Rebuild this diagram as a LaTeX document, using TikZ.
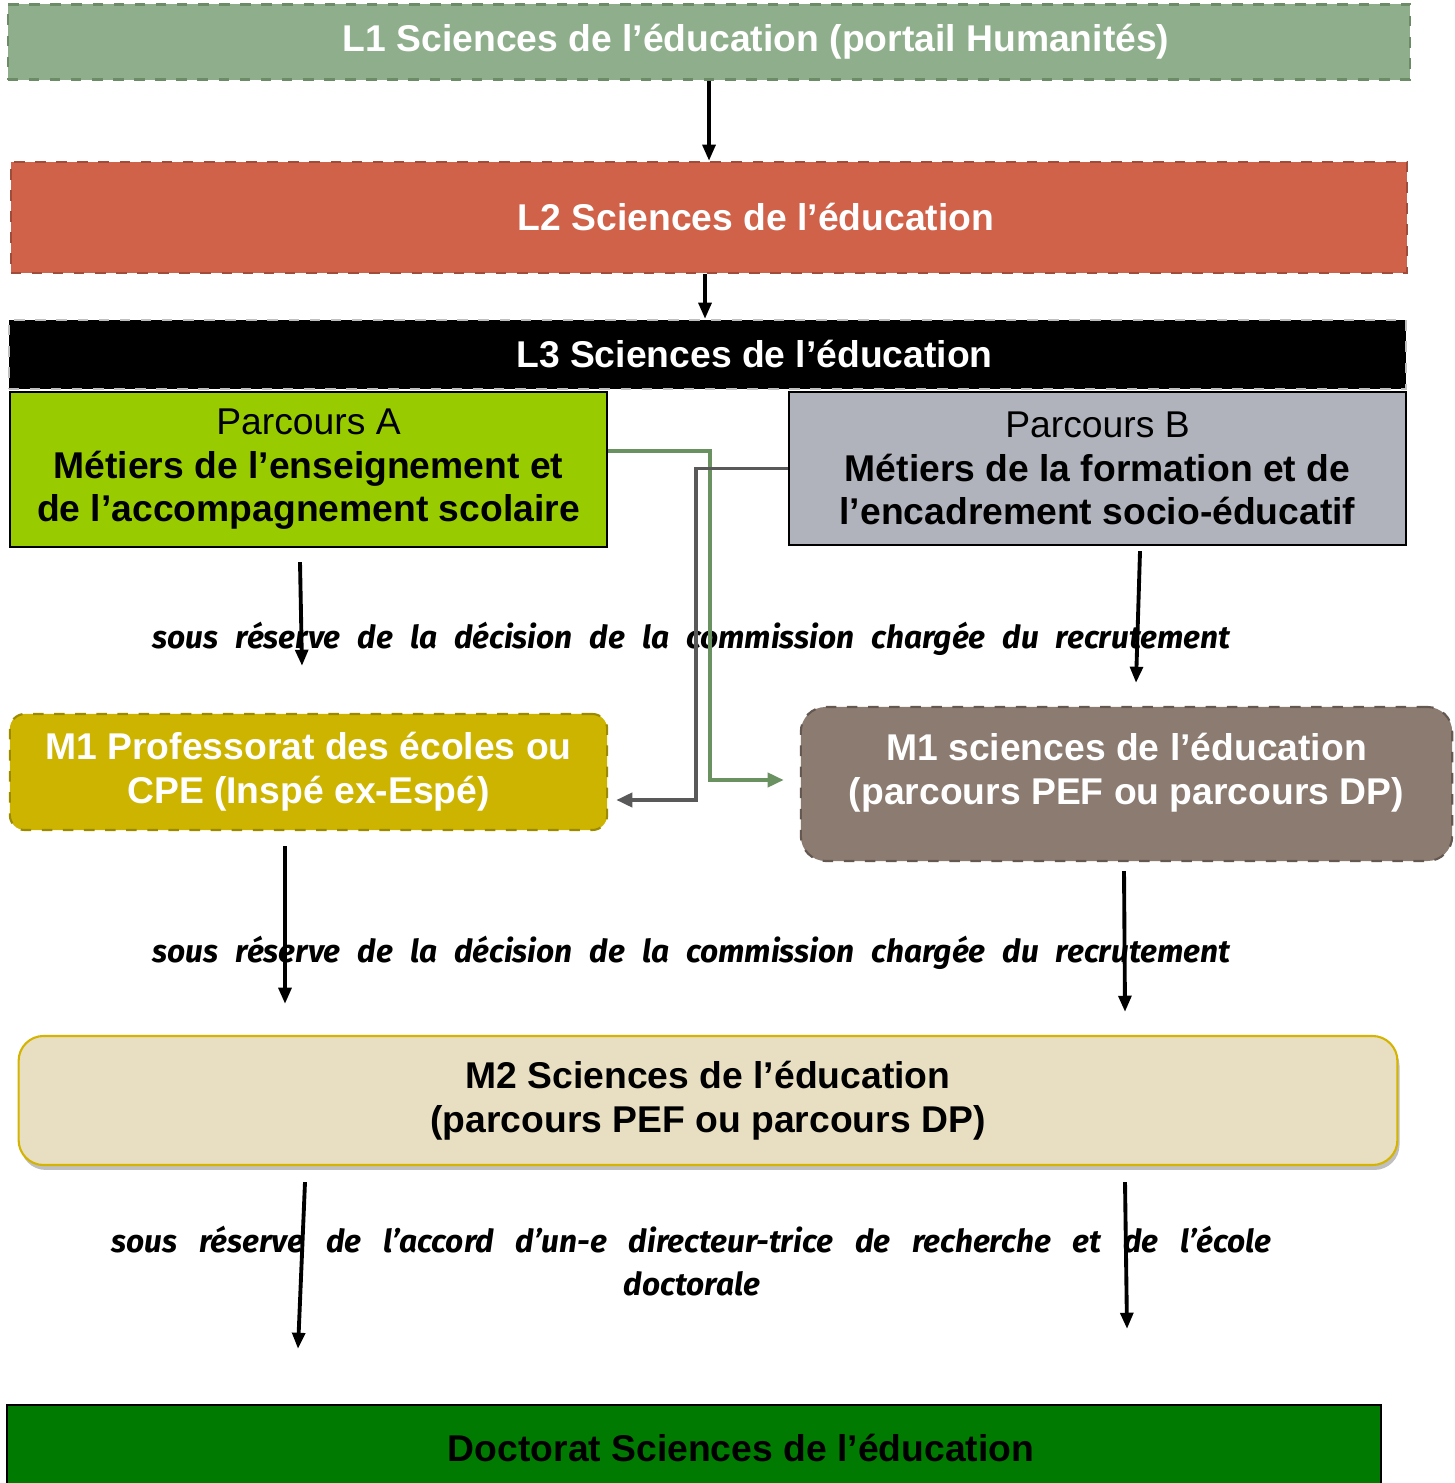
\documentclass[tikz,border=0pt]{standalone}
\usepackage{fontspec}
\setmainfont{Liberation Sans}
\newfontfamily\remfont{Fira Sans}
\usepackage{tikz}
\usetikzlibrary{arrows.meta}
\usetikzlibrary{shadows}
\definecolor{lunfond}{HTML}{8FAF8C}
\definecolor{lunbord}{HTML}{6C8C68}
\definecolor{ldeuxfond}{HTML}{D0624A}
\definecolor{ldeuxbord}{HTML}{A04C3A}
\definecolor{pafond}{HTML}{99CC00}
\definecolor{pbfond}{HTML}{B1B3BC}
\definecolor{mafond}{HTML}{CCB400}
\definecolor{mabord}{HTML}{9C8A00}
\definecolor{mbfond}{HTML}{8B7B70}
\definecolor{mbbord}{HTML}{645850}
\definecolor{mdeuxfond}{HTML}{E8DFC2}
\definecolor{mdeuxbord}{HTML}{D4B400}
\definecolor{docfond}{HTML}{007A00}
\definecolor{lienvert}{HTML}{6A9160}
\definecolor{liengris}{HTML}{595959}
\tikzset{bande/.style={draw, dashed, line width=0.6pt, inner sep=0pt, text=white,
   font=\fontsize{10.6}{12.4}\selectfont\bfseries},
 parcoursbox/.style={draw=black, line width=0.6pt, inner sep=0pt, align=center,
   font=\fontsize{10.6}{12.4}\selectfont},
 masterbox/.style={draw, dashed, line width=0.6pt, inner sep=0pt, align=center,
   text=white, font=\fontsize{10.6}{12.4}\selectfont\bfseries},
 fleche/.style={line width=1.1pt, -{Triangle[width=3.6pt,length=4.6pt]}},
 lien/.style={line width=1.1pt, -{Triangle[width=4pt,length=4.6pt]}},
 remarque/.style={inner sep=0pt, font=\remfont\fontsize{9}{12.4}\selectfont\bfseries\itshape},
 }

\begin{document}
\begin{tikzpicture}[x=0.01cm,y=-0.01cm]
        \useasboundingbox (0,0) rectangle (1454,1483);
        \node[bande, fill=lunfond, draw=lunbord, minimum width=14.02cm, minimum height=0.75cm]
            (l1) at (709,42) {\hspace*{0.94cm}L1 Sciences de l’éducation (portail Humanités)};
        \node[bande, fill=ldeuxfond, draw=ldeuxbord, minimum width=13.96cm, minimum height=1.11cm]
            (l2) at (709,217.5) {\hspace*{0.94cm}L2 Sciences de l’éducation};
        \node[bande, fill=black, draw=gray!50, minimum width=13.97cm, minimum height=0.69cm]
            (l3) at (707.5,354.5) {\hspace*{0.94cm}L3 Sciences de l’éducation};
        \node[parcoursbox, fill=pafond, minimum width=5.97cm, minimum height=1.55cm]
            (pa) at (308.5,469.5) {Parcours A\\\textbf{Métiers de l’enseignement et}\\\textbf{de l’accompagnement scolaire}};
        \node[parcoursbox, fill=pbfond, minimum width=6.17cm, minimum height=1.53cm]
            (pb) at (1097.5,468.5) {Parcours B\\\textbf{Métiers de la formation et de}\\\textbf{l’encadrement socio-éducatif}};
        \node[masterbox, fill=mafond, draw=mabord, rounded corners=0.15cm, minimum width=5.97cm, minimum height=1.16cm]
            (m1a) at (308.5,772) {M1 Professorat des écoles ou\\CPE (Inspé ex-Espé)};
        \node[masterbox, fill=mbfond, draw=mbbord, rounded corners=0.25cm, minimum width=6.51cm, minimum height=1.54cm]
            (m1b) at (1126.5,784) {M1 sciences de l’éducation\\(parcours PEF ou parcours DP)\\[-0.13cm]};
        \node[parcoursbox, draw=mdeuxbord, fill=mdeuxfond, rounded corners=0.25cm, font=\fontsize{10.6}{12.4}\selectfont\bfseries,
            drop shadow={shadow xshift=0.6pt, shadow yshift=-1.4pt, fill=black!25, opacity=1},
            minimum width=13.78cm, minimum height=1.29cm]
            (m2) at (708,1100.5) {M2 Sciences de l’éducation\\(parcours PEF ou parcours DP)};
        \node[parcoursbox, fill=docfond, font=\fontsize{10.6}{12.4}\selectfont\bfseries, minimum width=13.74cm, minimum height=0.85cm]
            (doc) at (694,1447.5) {\hspace*{0.94cm}Doctorat Sciences de l’éducation};

        \node[remarque] (r1) at (691.5,639) {\makebox[10.77cm][s]{sous réserve de la décision de la commission chargée du recrutement}};
        \node[remarque] (r2) at (691.5,953) {\makebox[10.77cm][s]{sous réserve de la décision de la commission chargée du recrutement}};
        \node[remarque] (r3) at (691.5,1240) {\makebox[11.59cm][s]{sous réserve de l’accord d’un-e directeur-trice de recherche et de l’école}};
        \node[remarque] (r4) at (692,1284) {doctorale};

        \draw[fleche] (l1) -- (l2);
        \draw[fleche] ([xshift=-0.04cm]l2.south) -- ([xshift=-0.04cm]l2.south |- l3.north);
        \draw[fleche] ([shift={(-8.5,14)}]pa.south) -- ([shift={(-6.5,-47)}]m1a.north);
        \draw[fleche] ([shift={(42.5,5)}]pb.south) -- ([shift={(9.5,-23)}]m1b.north);
        \draw[fleche] ([shift={(-23.5,15)}]m1a.south) -- ([shift={(-423,-31)}]m2.north);
        \draw[fleche] ([shift={(-2.5,9)}]m1b.south) -- ([shift={(417,-23)}]m2.north);
        \draw[fleche] ([shift={(-403,16)}]m2.south) -- ([shift={(-396,-55)}]doc.north);
        \draw[fleche] ([shift={(417,16)}]m2.south) -- ([shift={(433,-75)}]doc.north);

        \draw[lien, lienvert] ([yshift=0.185cm]pa.east) -- ++(102,0) |- ([shift={(-16,-4)}]m1b.west);
        \draw[lien, liengris] (pb.west) -- ++(-92,0) |- ([shift={(8,28)}]m1a.east);
    \end{tikzpicture}
\end{document}
